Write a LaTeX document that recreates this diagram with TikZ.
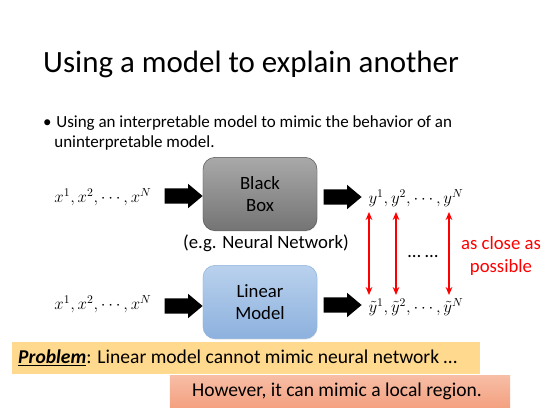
\documentclass[tikz,border=0pt]{standalone}
\usepackage{fontspec}
\setmainfont{Carlito}
\usepackage{tikz}
\usetikzlibrary{arrows.meta, shapes.arrows, shadows}
\definecolor{grisclair}{HTML}{A9A9A9}
\definecolor{grisfonce}{HTML}{747474}
\definecolor{bleuclair}{HTML}{B9D1ED}
\definecolor{bleufonce}{HTML}{8DB1DE}
\definecolor{jaune}{HTML}{FFD98D}
\definecolor{saumonclair}{HTML}{F7BEA6}
\definecolor{saumon}{HTML}{F4A181}
\definecolor{rouge}{HTML}{FF0000}
\tikzset{
  boite/.style={rectangle, rounded corners=0.36cm, minimum width=3.42cm,
    minimum height=2.2cm, align=center, font=\fontsize{16}{19}\selectfont,
    drop shadow={opacity=0.2, shadow xshift=0.5pt, shadow yshift=-0.8pt}},
  boitenoire/.style={boite, draw=grisfonce!70!black, top color=grisclair, bottom color=grisfonce},
  boitebleue/.style={boite, draw=bleufonce, top color=bleuclair, bottom color=bleufonce},
  grossefleche/.style={single arrow, fill=black, draw=none, minimum height=1.14cm,
    inner sep=0.225cm, single arrow head extend=0.135cm, single arrow tip angle=80},
  formule/.style={font=\fontsize{14.6}{17}\selectfont, inner sep=0pt},
  texte/.style={font=\fontsize{16}{19}\selectfont, align=center},
  rapproche/.style={{Stealth[length=2.4mm, width=2mm]}-{Stealth[length=2.4mm, width=2mm]}, line width=1.6pt, color=rouge},
  bandeau/.style={rectangle, minimum height=0.96cm, inner sep=0pt},
  bandeautexte/.style={inner sep=0pt, font=\fontsize{16.7}{20}\selectfont}
}
\begin{document}
\begin{tikzpicture}[x=0.03cm, y=-0.03cm]
    \useasboundingbox (0, 0) rectangle (554, 415);

    \node[anchor=base west, inner sep=0pt, font=\fontsize{26.4}{30}\selectfont] (titre) at (43, 72)
      {Using a model to explain another};
    \node[anchor=base west, inner sep=0pt, font=\fontsize{14.5}{17}\selectfont, align=left] (puce) at (43, 147)
      {\textbullet\hspace{4pt}Using an interpretable model to mimic the behavior of an\\
       \hspace{9.5pt}uninterpretable model.};

    % ligne du haut
    \node[formule] (xhaut) at (103, 197) {$x^1, x^2, \cdots, x^N$};
    \node[grossefleche] (fh1) at (179, 196) {};
    \node[boitenoire] (bb) at (260, 194) {Black\\ Box};
    \node[texte] (rn) at (266, 243) {(e.g. Neural Network)};
    \node[grossefleche] (fh2) at (338, 197) {};
    \node[formule] (yhaut) at (416, 198) {$y^1, y^2, \cdots, y^N$};

    % ligne du bas
    \node[formule] (xbas) at (103, 304) {$x^1, x^2, \cdots, x^N$};
    \node[grossefleche] (fb1) at (179, 306) {};
    \node[boitebleue] (lm) at (260, 302) {Linear\\ Model};
    \node[grossefleche] (fb2) at (338, 305) {};
    \node[formule] (ybas) at (416, 307) {$\tilde{y}^1, \tilde{y}^2, \cdots, \tilde{y}^N$};

    \foreach \x [count=\i] in {369, 396, 449} {
      \coordinate (h\i) at (\x, 212);
      \coordinate (b\i) at (\x, 295);
      \draw[rapproche] (h\i) -- (b\i);
    }
    \node[texte] (pts) at (423, 257) {\dots\ \dots};
    \node[texte, text=rouge, inner sep=0pt] (proche) at (501, 256) {as close as\\ possible};

    % bandeaux
    \node[bandeau, fill=jaune, minimum width=14.04cm, anchor=west] (pb) at (12, 358) {};
    \node[bandeautexte, anchor=west] (pbtexte) at (18, 358)
      {\underline{\textbf{\textit{Problem}}}: Linear model cannot mimic neural network \dots};
    \node[bandeau, top color=saumonclair, bottom color=saumon, minimum width=10.2cm] (loc) at (340, 391) {};
    \node[bandeautexte] (loctexte) at (337, 391) {However, it can mimic a local region.};
  \end{tikzpicture}
\end{document}
